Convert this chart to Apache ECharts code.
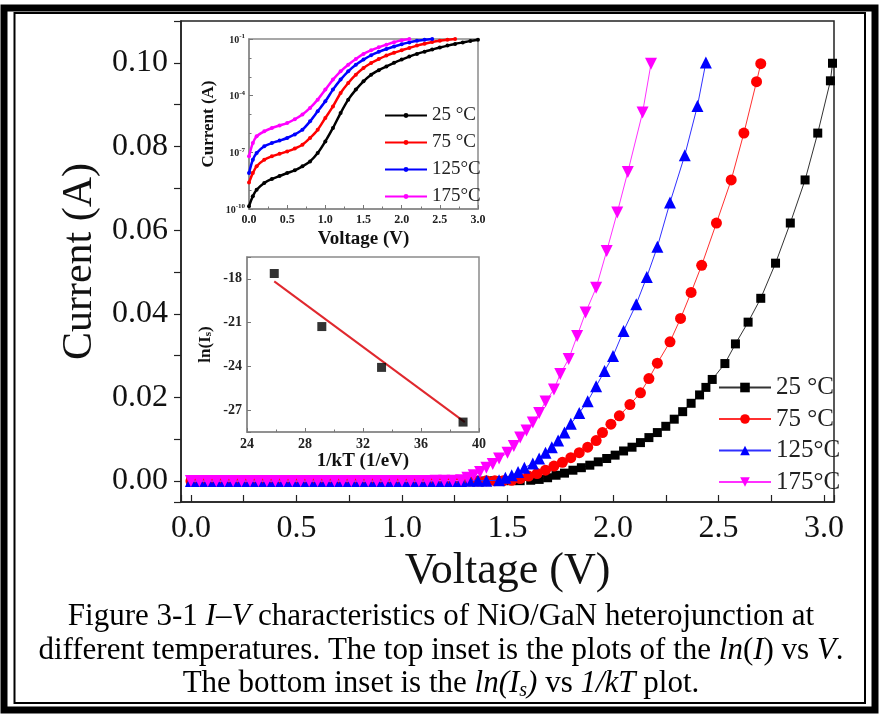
<!DOCTYPE html>
<html><head><meta charset="utf-8">
<script src="https://cdn.jsdelivr.net/npm/echarts@6/dist/echarts.min.js"></script>
<style>html,body{margin:0;padding:0;background:#fff}#c{width:882px;height:720px}</style>
</head><body><div id="c"></div>
<script>
// ---------- Main plot: I-V data (V in volts, I in amperes) ----------
const seriesNames = ['25 °C', '75 °C', '125°C', '175°C'];

const v25 = [0.00,0.04,0.08,0.12,0.16,0.20,0.24,0.28,0.32,0.36,0.40,0.44,0.48,0.52,0.56,0.60,0.64,0.68,0.72,0.76,0.80,0.84,0.88,0.92,0.96,1.00,1.04,1.08,1.12,1.16,1.20,1.24,1.28,1.32,1.36,1.40,1.44,1.48,1.52,1.56,
  1.61,1.65,1.69,1.73,1.77,1.81,1.85,1.89,1.93,1.97,2.01,2.05,2.09,2.13,2.17,2.21,2.25,2.29,2.33,2.37,2.41,
  2.44,2.47,2.53,2.58,2.64,2.70,2.77,2.84,2.91,2.97,3.03,3.04];
const i25 = [0,0,0,0,0,0,0,0,0,0,0,0,0,0,0,0,0,0,0,0,0,0,0,0,0,0,0,0,0,0,0,0,0,0,0,0,0.0001,0.0001,0.0001,0.0001,
  0.0002,0.0004,0.0008,0.0014,0.0019,0.0026,0.0032,0.0038,0.0046,0.0054,0.0062,0.0072,0.0081,0.0092,0.0104,0.0116,0.0131,0.0148,0.0166,0.0186,0.0206,
  0.0224,0.0243,0.0281,0.0328,0.0380,0.0437,0.0521,0.0617,0.0720,0.0832,0.0957,0.0999];

const v75 = [0.00,0.04,0.08,0.12,0.16,0.20,0.24,0.28,0.32,0.36,0.40,0.44,0.48,0.52,0.56,0.60,0.64,0.68,0.72,0.76,0.80,0.84,0.88,0.92,0.96,1.00,1.04,1.08,1.12,1.16,1.20,1.24,1.28,1.32,1.36,1.40,1.44,1.48,
  1.52,1.56,1.60,1.64,1.68,1.72,1.76,1.80,1.84,1.88,1.92,1.95,1.99,2.03,2.08,2.13,2.17,2.21,2.27,2.32,2.37,2.42,2.49,2.56,2.62,2.68,2.70];
const i75 = [0,0,0,0,0,0,0,0,0,0,0,0,0,0,0,0,0,0,0,0,0,0,0,0,0,0,0,0,0,0,0,0,0,0,0,0.0001,0.0001,0.0001,
  0.0002,0.0006,0.0012,0.0018,0.0026,0.0036,0.0045,0.0056,0.0068,0.0081,0.0097,0.0116,0.0136,0.0156,0.0183,0.0211,0.0245,0.0282,0.0333,0.0389,0.0451,0.0516,0.0617,0.0720,0.0832,0.0955,0.0998];

const v125 = [0.00,0.04,0.08,0.12,0.16,0.20,0.24,0.28,0.32,0.36,0.40,0.44,0.48,0.52,0.56,0.60,0.64,0.68,0.72,0.76,0.80,0.84,0.88,0.92,0.96,1.00,1.04,1.08,1.12,1.16,1.20,1.24,1.28,1.32,1.36,1.40,
  1.46,1.49,1.52,1.55,1.58,1.62,1.65,1.68,1.71,1.74,1.77,1.80,1.84,1.88,1.92,1.96,2.00,2.05,2.11,2.16,2.21,2.27,2.34,2.40,2.44];
const i125 = [0,0,0,0,0,0,0,0,0,0,0,0,0,0,0,0,0,0,0,0,0,0,0,0,0,0,0,0,0,0,0,0,0,0.0001,0.0001,0.0001,
  0.0002,0.0008,0.0014,0.0022,0.0032,0.0042,0.0054,0.0068,0.0081,0.0097,0.0116,0.0137,0.0163,0.0191,0.0227,0.0263,0.0299,0.0359,0.0423,0.0488,0.0560,0.0666,0.0779,0.0897,0.1001];

const v175 = [0.00,0.04,0.08,0.12,0.16,0.20,0.24,0.28,0.32,0.36,0.40,0.44,0.48,0.52,0.56,0.60,0.64,0.68,0.72,0.76,0.80,0.84,0.88,0.92,0.96,1.00,1.04,1.08,1.12,1.16,1.20,1.24,
  1.28,1.31,1.34,1.37,1.40,1.43,1.46,1.50,1.53,1.56,1.59,1.62,1.65,1.68,1.72,1.75,1.79,1.83,1.87,1.92,1.97,2.02,2.07,2.14,2.18];
const i175 = [0,0,0,0,0,0,0,0,0,0,0,0,0,0,0,0,0,0,0,0,0,0,0,0,0,0,0,0,0,0.0001,0.0001,0.0001,
  0.0002,0.0008,0.0014,0.0022,0.0032,0.0041,0.0054,0.0068,0.0084,0.0104,0.0121,0.0140,0.0163,0.0190,0.0219,0.0256,0.0292,0.0347,0.0403,0.0462,0.0550,0.0642,0.0739,0.0881,0.0998];

// ---------- Top inset: log10(I) vs V ----------
const insetV = [0.00,0.05,0.10,0.20,0.30,0.40,0.50,0.60,0.70,0.80,0.90,1.00,1.10,1.20,1.30,1.40,1.50,1.60,1.70,1.80,1.90,2.00,2.10,2.20,2.30,2.40,2.50,2.60,2.70,2.80,2.90,3.00];
const log25 = [-9.86,-9.33,-8.98,-8.62,-8.41,-8.25,-8.10,-7.95,-7.74,-7.48,-7.04,-6.42,-5.71,-4.92,-4.21,-3.68,-3.24,-2.89,-2.65,-2.45,-2.26,-2.09,-1.93,-1.79,-1.67,-1.56,-1.45,-1.35,-1.26,-1.18,-1.10,-1.04];
const log75 = [-8.60,-8.10,-7.74,-7.39,-7.21,-7.08,-6.95,-6.80,-6.60,-6.24,-5.80,-5.18,-4.57,-3.86,-3.33,-2.89,-2.54,-2.27,-2.06,-1.88,-1.73,-1.60,-1.47,-1.35,-1.25,-1.16,-1.09,-1.04,-1.00];
const log125 = [-8.10,-7.39,-7.04,-6.68,-6.51,-6.38,-6.24,-6.05,-5.80,-5.36,-4.83,-4.30,-3.68,-3.15,-2.71,-2.36,-2.09,-1.86,-1.68,-1.53,-1.40,-1.28,-1.18,-1.09,-1.04,-1.00];
const log175 = [-7.21,-6.51,-6.15,-5.89,-5.71,-5.58,-5.45,-5.25,-5.00,-4.65,-4.21,-3.68,-3.15,-2.71,-2.36,-2.06,-1.79,-1.60,-1.44,-1.30,-1.17,-1.07,-1.00];

// ---------- Bottom inset: ln(Is) vs 1/kT ----------
const invKT = [25.88, 29.16, 33.28, 38.90];
const lnIs = [-17.63, -21.27, -24.07, -27.82];
const fitX = [25.88, 39.02];
const fitY = [-18.17, -27.82];

// ---------- build ----------
const pairs = (xs, ys) => ys.map((y, k) => [xs[k], y]);
const FONT = 'Liberation Serif';
const colors = ['#000000', '#ff0000', '#0000ff', '#ff00ff'];
const lineColors = ['#333333', '#ff3030', '#3030ff', '#ff30ff'];
const mainData = [pairs(v25, i25), pairs(v75, i75), pairs(v125, i125), pairs(v175, i175)];
const insetData = [pairs(insetV, log25), pairs(insetV, log75), pairs(insetV, log125), pairs(insetV, log175)];
const symbols = ['rect', 'circle', 'triangle', 'triangle'];
const symSizes = [9, 11, 12, 12];
const symRot = [0, 0, 0, 180];
const insetNames = ['i25', 'i75', 'i125', 'i175'];

const near = (a, b) => Math.abs(a - b) < 1e-7;

const series = [];
for (let k = 0; k < 4; k++) {
  series.push({
    name: seriesNames[k], type: 'line', xAxisIndex: 0, yAxisIndex: 0,
    data: mainData[k], symbol: symbols[k], symbolSize: symSizes[k], symbolRotate: symRot[k],
    itemStyle: { color: colors[k] }, lineStyle: { color: lineColors[k], width: 1 },
    animation: false, z: 2 + k
  });
}
for (let k = 0; k < 4; k++) {
  series.push({
    name: insetNames[k], type: 'line', xAxisIndex: 1, yAxisIndex: 1,
    data: insetData[k], symbol: 'circle', symbolSize: 4, smooth: 0.3,
    itemStyle: { color: colors[k] }, lineStyle: { color: colors[k], width: 2.5 },
    animation: false, z: 10
  });
}
series.push({
  name: 'fit', type: 'line', xAxisIndex: 2, yAxisIndex: 2, data: pairs(fitX, fitY),
  symbol: 'none', lineStyle: { color: '#e0282e', width: 2 }, animation: false, z: 10
});
series.push({
  name: 'lnIs', type: 'scatter', xAxisIndex: 2, yAxisIndex: 2, data: pairs(invKT, lnIs),
  symbol: 'rect', symbolSize: 9, itemStyle: { color: '#000' }, animation: false, z: 11
});

const insetAxisLine = { onZero: false, lineStyle: { color: '#8a8a8a', width: 1.5 } };
const insetTick = { inside: true, length: 4, lineStyle: { color: '#777' } };

const option = {
  backgroundColor: '#fff',
  animation: false,
  grid: [
    { left: 181, top: 21, width: 653, height: 481, show: true, borderColor: '#222', borderWidth: 1.5, backgroundColor: 'transparent' },
    { left: 249, top: 39, width: 229, height: 170, show: true, borderColor: '#8a8a8a', borderWidth: 1.5, backgroundColor: '#fff' },
    { left: 247, top: 257, width: 232, height: 175, show: true, borderColor: '#8a8a8a', borderWidth: 1.5, backgroundColor: '#fff' }
  ],
  xAxis: [
    { gridIndex: 0, type: 'value', min: -0.047, max: 3.047, minInterval: 0.25, maxInterval: 0.25,
      name: 'Voltage (V)', nameLocation: 'middle', nameGap: 46,
      nameTextStyle: { fontFamily: FONT, fontSize: 44, color: '#111' },
      axisLine: { onZero: false, lineStyle: { color: '#222', width: 1.5 } },
      axisTick: { inside: true, length: 7, lineStyle: { color: '#222', width: 1.2 } },
      splitLine: { show: false },
      axisLabel: { margin: 11, fontFamily: FONT, fontSize: 32, color: '#111',
        formatter: v => (near(v * 2, Math.round(v * 2)) && v > -0.01 && v < 3.01) ? v.toFixed(1) : '' } },
    { gridIndex: 1, type: 'value', min: 0, max: 3, interval: 0.5,
      name: 'Voltage (V)', nameLocation: 'middle', nameGap: 21,
      nameTextStyle: { fontFamily: FONT, fontSize: 19, fontWeight: 'bold', color: '#111' },
      axisLine: insetAxisLine, axisTick: insetTick, minorTick: { show: true, splitNumber: 2, length: 2.5, lineStyle: { color: '#777' } },
      splitLine: { show: false },
      axisLabel: { margin: 5, fontFamily: FONT, fontSize: 12, fontWeight: 'bold', color: '#222', formatter: v => v.toFixed(1) } },
    { gridIndex: 2, type: 'value', min: 24, max: 40, interval: 4,
      name: '1/kT (1/eV)', nameLocation: 'middle', nameGap: 20,
      nameTextStyle: { fontFamily: FONT, fontSize: 19, fontWeight: 'bold', color: '#111' },
      axisLine: insetAxisLine, axisTick: insetTick, minorTick: { show: true, splitNumber: 2, length: 2.5, lineStyle: { color: '#777' } },
      splitLine: { show: false },
      axisLabel: { margin: 5, fontFamily: FONT, fontSize: 14, fontWeight: 'bold', color: '#222' } }
  ],
  yAxis: [
    { gridIndex: 0, type: 'value', min: -0.005, max: 0.11, minInterval: 0.01, maxInterval: 0.01,
      name: 'Current (A)', nameLocation: 'middle', nameGap: 80,
      nameTextStyle: { fontFamily: FONT, fontSize: 42, color: '#111' },
      axisLine: { show: true, onZero: false, lineStyle: { color: '#222', width: 1.5 } },
      axisTick: { show: true, inside: false, length: 7, lineStyle: { color: '#222', width: 1.2 } },
      splitLine: { show: false },
      axisLabel: { margin: 13, fontFamily: FONT, fontSize: 32, color: '#111',
        formatter: v => (near(v / 0.02, Math.round(v / 0.02)) && v > -0.001 && v < 0.101) ? v.toFixed(2) : '' } },
    { gridIndex: 1, type: 'value', min: -10, max: -1, interval: 3,
      name: 'Current (A)', nameLocation: 'middle', nameGap: 32,
      nameTextStyle: { fontFamily: FONT, fontSize: 17, fontWeight: 'bold', color: '#111' },
      axisLine: { show: true, ...insetAxisLine }, axisTick: { show: true, ...insetTick },
      minorTick: { show: true, splitNumber: 3, length: 2.5, lineStyle: { color: '#777' } },
      splitLine: { show: false },
      axisLabel: { margin: 4, color: '#222',
        formatter: v => '{b|10}{s|' + v + '}',
        rich: { b: { fontFamily: FONT, fontSize: 10, fontWeight: 'bold', lineHeight: 12, verticalAlign: 'bottom' },
                s: { fontFamily: FONT, fontSize: 7, fontWeight: 'bold', lineHeight: 7, verticalAlign: 'top' } } } },
    { gridIndex: 2, type: 'value', min: -28.5, max: -16.5, minInterval: 3, maxInterval: 3,
      name: 'ln(I{s|s})', nameLocation: 'middle', nameGap: 33,
      nameTextStyle: { fontFamily: FONT, fontSize: 17, fontWeight: 'bold', color: '#111',
        rich: { s: { fontFamily: FONT, fontSize: 11, fontWeight: 'bold', verticalAlign: 'bottom', lineHeight: 11 } } },
      axisLine: { show: true, ...insetAxisLine }, axisTick: { show: true, ...insetTick },
      splitLine: { show: false },
      axisLabel: { margin: 5, fontFamily: FONT, fontSize: 14, fontWeight: 'bold', color: '#222',
        formatter: v => near(v / 3, Math.round(v / 3)) ? String(Math.round(v)) : '' } }
  ],
  legend: [
    { data: seriesNames, orient: 'vertical', left: 713, top: 370, itemWidth: 52, itemHeight: 12, itemGap: 6.5,
      selectedMode: false, textStyle: { fontFamily: FONT, fontSize: 25, color: '#222' } },
    { data: insetNames, orient: 'vertical', left: 379, top: 101, itemWidth: 42, itemHeight: 6, itemGap: 8,
      selectedMode: false, formatter: n => seriesNames[insetNames.indexOf(n)],
      textStyle: { fontFamily: FONT, fontSize: 19, color: '#222' } }
  ],
  graphic: [
    { type: 'rect', silent: true, shape: { x: 4, y: 8, width: 871, height: 702 }, style: { fill: 'none', stroke: '#000', lineWidth: 7 } },
    { type: 'rect', silent: true, shape: { x: 14.5, y: 13, width: 850.5, height: 690 }, style: { fill: 'none', stroke: '#000', lineWidth: 2 } },
    { type: 'text', silent: true, style: { x: 441, y: 617, align: 'center', verticalAlign: 'middle',
        text: 'Figure 3-1 {i|I–V} characteristics of NiO/GaN heterojunction at',
        fontFamily: FONT, fontSize: 31, fill: '#000',
        rich: { i: { fontFamily: FONT, fontSize: 31, fontStyle: 'italic' } } } },
    { type: 'text', silent: true, style: { x: 441, y: 651, align: 'center', verticalAlign: 'middle',
        text: 'different temperatures. The top inset is the plots of the {i|ln}({i|I}) vs {i|V}.',
        fontFamily: FONT, fontSize: 31, fill: '#000',
        rich: { i: { fontFamily: FONT, fontSize: 31, fontStyle: 'italic' } } } },
    { type: 'text', silent: true, style: { x: 441, y: 684, align: 'center', verticalAlign: 'middle',
        text: 'The bottom inset is the {i|ln(I}{sub|s}{i|)} vs {i|1/kT} plot.',
        fontFamily: FONT, fontSize: 31, fill: '#000',
        rich: { i: { fontFamily: FONT, fontSize: 31, fontStyle: 'italic', lineHeight: 34 },
                sub: { fontFamily: FONT, fontSize: 20, fontStyle: 'italic', lineHeight: 21, verticalAlign: 'bottom' } } } }
  ],
  series: series
};

const chart = echarts.init(document.getElementById('c'), null, { renderer: 'canvas' });
chart.setOption(option);
</script></body></html>
